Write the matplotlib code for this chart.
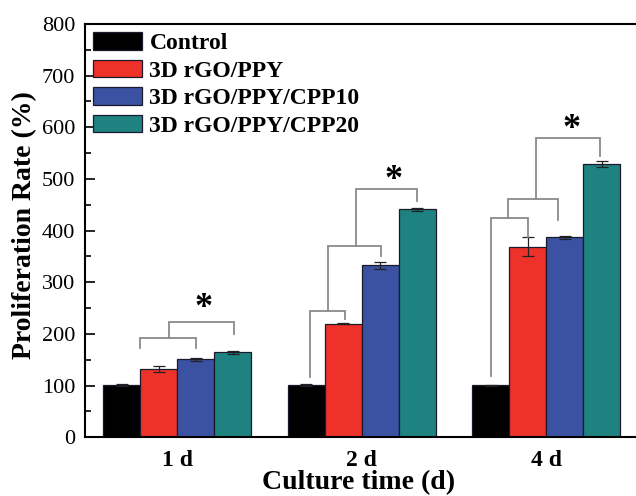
import matplotlib
matplotlib.use("Agg")
import matplotlib.pyplot as plt
import numpy as np
from matplotlib.ticker import MultipleLocator

plt.rcParams['font.family'] = ['Liberation Serif', 'DejaVu Serif']

# ---- data ----
days = ["1 d", "2 d", "4 d"]
series = ["Control", "3D rGO/PPY", "3D rGO/PPY/CPP10", "3D rGO/PPY/CPP20"]
control = [101, 101, 101]
rgo_ppy = [132, 220, 369]
cpp10 = [151, 333, 387]
cpp20 = [165, 441, 529]
err_control = [2.5, 1.5, 1.0]
err_rgo_ppy = [5.5, 0.5, 18.5]
err_cpp10 = [2.5, 6.5, 3.0]
err_cpp20 = [3.0, 2.0, 5.5]
colors = ["#000000", "#EE3129", "#3B51A2", "#1D8280"]

# significance brackets: (x_left, x_right, y_bar, y_left_end, y_right_end)
brackets = [
    (0.80, 1.10, 193, 173, 173),
    (0.955, 1.31, 224, 193, 200),
    (1.72, 1.91, 244.5, 117, 229),
    (1.815, 2.105, 371, 244.5, 350),
    (1.97, 2.30, 480.5, 371, 458),
    (2.70, 2.90, 425, 119, 388),
    (2.79, 3.065, 461, 425, 421),
    (2.945, 3.29, 579.5, 461, 544.5),
]
stars = [(1.14, 249), (2.17, 497), (3.135, 595)]

values = [control, rgo_ppy, cpp10, cpp20]
errors = [err_control, err_rgo_ppy, err_cpp10, err_cpp20]

fig = plt.figure(figsize=(6.36, 4.96), dpi=100)
ax = fig.add_axes([85 / 636, 58.7 / 496, 553.5 / 636, 413.3 / 496])

x = np.arange(1, len(days) + 1)
w = 0.2
for i, (vals, errs, c, name) in enumerate(zip(values, errors, colors, series)):
    pos = x + (i - 1.5) * w
    ax.bar(pos, vals, width=w, color=c, edgecolor="#1a1a2a", linewidth=0.9,
           label=name, zorder=2)
    ax.errorbar(pos, vals, yerr=errs, fmt="none", ecolor="#222222",
                elinewidth=0.9, capsize=4, capthick=0.9, zorder=3)

for xl, xr, yb, yle, yre in brackets:
    ax.plot([xl, xl, xr, xr], [yle, yb, yb, yre], color="#8a8a8a", lw=1.3,
            zorder=4, solid_joinstyle="miter")

for sx, sy in stars:
    ax.text(sx, sy, "*", ha="center", va="center", fontsize=26,
            fontweight="bold", zorder=5)

ax.set_xlim(0.5, 3.5)
ax.set_ylim(0, 800)
ax.set_xticks(x)
ax.set_xticklabels(days, fontsize=17, fontweight="bold")
ax.yaxis.set_major_locator(MultipleLocator(100))
ax.yaxis.set_minor_locator(MultipleLocator(50))
ax.tick_params(axis="y", which="major", direction="in", length=7, width=1.2,
               labelsize=16, pad=7)
ax.tick_params(axis="y", which="minor", direction="in", length=4, width=1.2)
ax.tick_params(axis="x", which="both", length=0, pad=9)
ax.spines["right"].set_visible(False)
for s in ["left", "bottom", "top"]:
    ax.spines[s].set_linewidth(1.5)

ax.set_xlabel("Culture time (d)", fontsize=20, fontweight="bold")
ax.xaxis.label.set_va("baseline")
ax.xaxis.set_label_coords(0.494, -0.126)
ax.set_ylabel("Proliferation Rate (%)", fontsize=20, fontweight="bold")
ax.yaxis.label.set_va("center")
ax.yaxis.set_label_coords(-0.110, 0.514)

leg = ax.legend(loc="upper left", bbox_to_anchor=(0.0, 1.0), frameon=False,
                prop={"size": 17, "weight": "bold"}, handlelength=2.08,
                handleheight=0.76, labelspacing=0.235, handletextpad=0.3,
                borderaxespad=0.2, borderpad=0.15)

fig.savefig("out.png", dpi=100)
